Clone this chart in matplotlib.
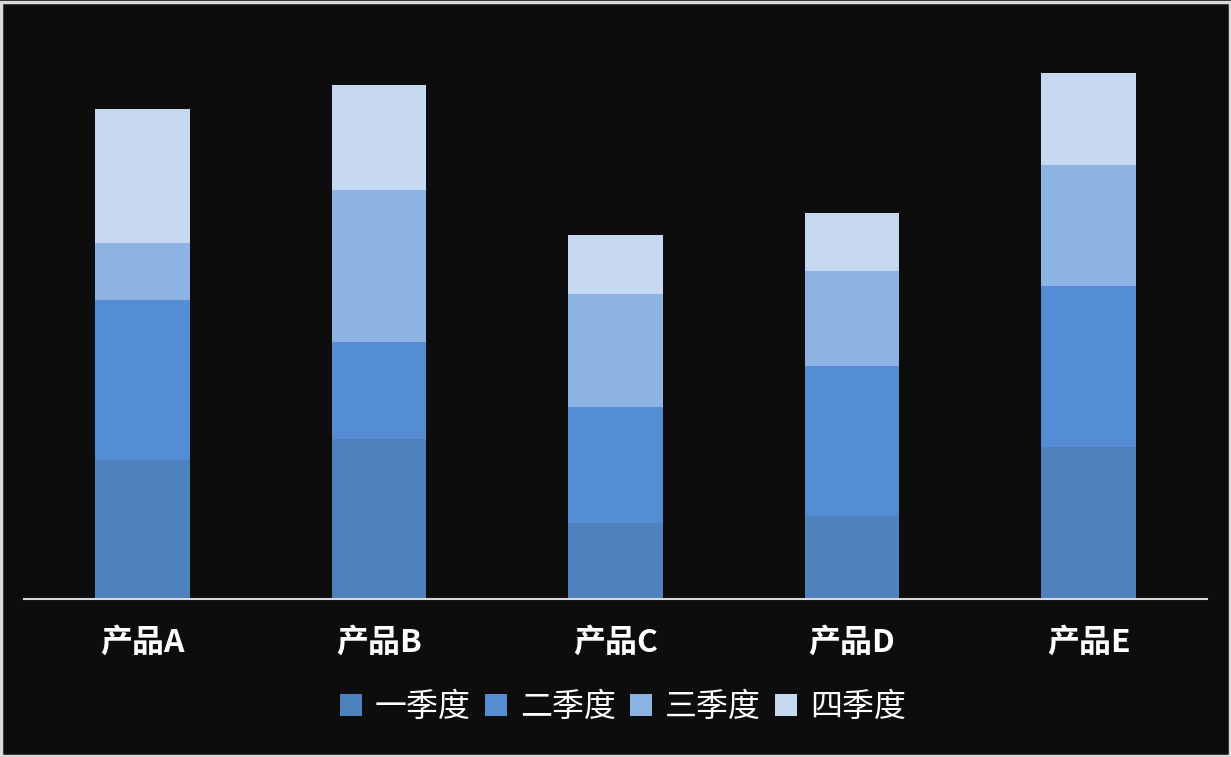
import matplotlib
matplotlib.use("Agg")
import matplotlib.pyplot as plt
from matplotlib.patches import Rectangle
import numpy as np

plt.rcParams['font.family'] = ['Noto Sans CJK SC', 'DejaVu Sans']

categories = ['产品A', '产品B', '产品C', '产品D', '产品E']
series_names = ['一季度', '二季度', '三季度', '四季度']
q1 = [139, 160, 76, 83, 152]
q2 = [160, 97, 116, 150, 161]
q3 = [57, 152, 113, 95, 121]
q4 = [134, 105, 59, 58, 92]
colors = ['#4f81bd', '#548dd4', '#8db3e2', '#c6d9f1']

BG = '#0d0d0d'

fig = plt.figure(figsize=(12.31, 7.57), dpi=100)
fig.patch.set_facecolor(BG)
ax = fig.add_axes([24 / 1231, 158 / 757, 1183 / 1231, 559 / 757])
ax.set_facecolor(BG)

x = np.arange(len(categories))
bottom = np.zeros(len(categories))
handles = []
for vals, name, c in zip([q1, q2, q3, q4], series_names, colors):
    b = ax.bar(x, vals, width=0.4, bottom=bottom, color=c, label=name, linewidth=0)
    handles.append(b)
    bottom += np.array(vals)

ax.set_xlim(-0.5, len(categories) - 0.5)
ax.set_ylim(0, 559)
ax.set_yticks([])
ax.set_xticks(x)
ax.set_xticklabels(categories, color='white', fontsize=23, fontweight='bold')
ax.tick_params(axis='x', length=0, pad=20)
for s in ['top', 'right', 'left']:
    ax.spines[s].set_visible(False)
ax.spines['bottom'].set_color('#d9d9d9')
ax.spines['bottom'].set_linewidth(1.5)

leg = fig.legend(handles=handles, labels=series_names, loc='center',
                 bbox_to_anchor=(0.506, 0.066), ncol=4, frameon=False,
                 fontsize=23, labelcolor='white', handlelength=0.69,
                 handleheight=0.69, handletextpad=0.4, columnspacing=0.45)

# outer light frame
fig.patches.append(Rectangle((0.001, 0.001), 0.998, 0.997, transform=fig.transFigure,
                             fill=False, edgecolor='#d9d9d9', linewidth=2.5))

fig.savefig('out.png', dpi=100, facecolor=BG)
